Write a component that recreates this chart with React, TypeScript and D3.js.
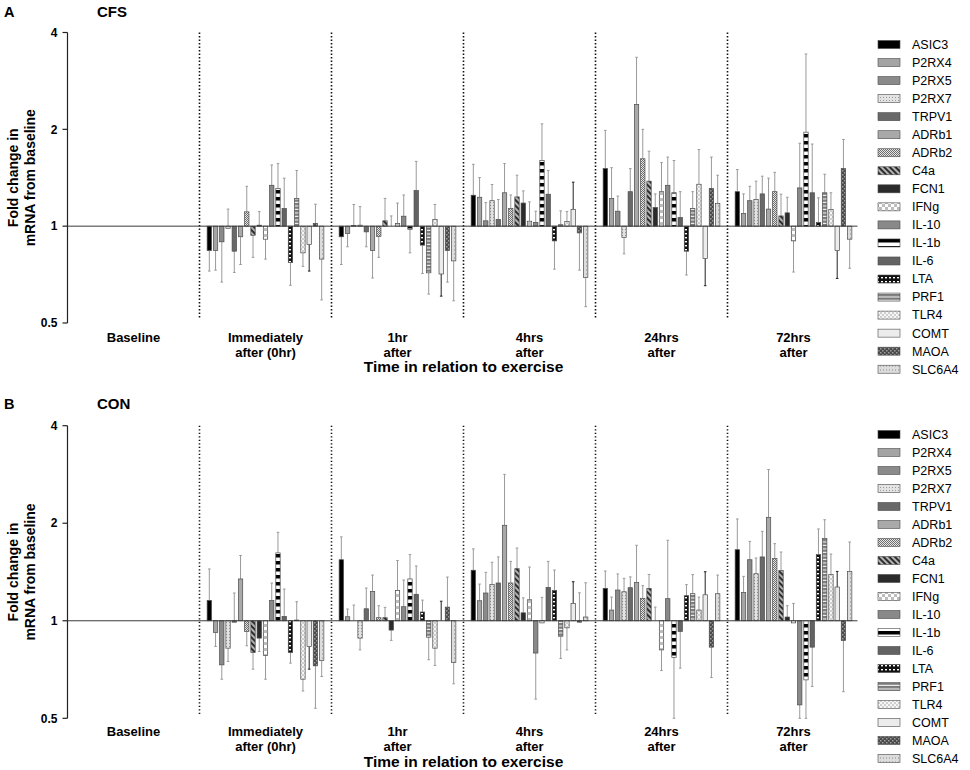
import React from 'react';
import * as d3 from 'd3';

// ---------- DATA ----------
const genes = ['ASIC3','P2RX4','P2RX5','P2RX7','TRPV1','ADRb1','ADRb2','C4a','FCN1','IFNg','IL-10','IL-1b','IL-6','LTA','PRF1','TLR4','COMT','MAOA','SLC6A4'];
const timeKeys = ['base','0hr','1hr','4hrs','24hrs','72hrs'];
const timeLine1 = ['Baseline','Immediately','1hr','4hrs','24hrs','72hrs'];
const timeLine2 = ['','after (0hr)','after','after','after','after'];
const yTicks = [0.5, 1, 2, 4];

// CFS (panel A) mean fold change and error-bar end
const cfs0hr    = [0.84,0.84,0.894,0.985,0.836,0.927,1.108,0.937,1.007,0.911,1.34,1.31,1.135,0.771,1.22,0.826,0.877,1.02,0.79];
const cfs0hrErr = [0.725,0.73,0.67,1.13,0.718,0.76,1.33,0.80,1.11,0.79,1.55,1.565,1.41,0.655,1.49,0.75,0.725,1.17,0.59];
const cfs1hr    = [0.927,0.949,1.005,1.007,0.96,0.84,0.93,1.039,1.0,1.02,1.074,0.977,1.29,0.873,0.716,1.05,0.71,0.84,0.78];
const cfs1hrErr = [0.76,0.863,1.168,1.15,0.863,0.69,0.80,1.22,1.076,1.18,1.25,0.826,1.59,0.713,0.615,1.168,0.606,0.67,0.586];
const cfs4hr    = [1.248,1.23,1.039,1.2,1.049,1.27,1.135,1.233,1.18,1.036,1.027,1.6,1.257,0.90,1.01,1.034,1.127,0.953,0.693];
const cfs4hrErr = [1.557,1.416,1.184,1.347,1.21,1.565,1.25,1.44,1.287,1.19,1.113,2.08,1.49,0.735,1.116,1.11,1.37,0.73,0.562];
const cfs24hr    = [1.51,1.22,1.113,0.922,1.28,2.39,1.62,1.38,1.143,1.28,1.34,1.27,1.064,0.836,1.135,1.35,0.794,1.31,1.176];
const cfs24hrErr = [1.985,1.52,1.24,0.82,1.51,3.35,2.0,1.71,1.26,1.576,1.64,1.6,1.28,0.705,1.28,1.73,0.653,1.64,1.44];
const cfs72hr    = [1.28,1.095,1.2,1.21,1.26,1.13,1.28,1.076,1.1,0.90,1.315,1.96,1.27,1.027,1.27,1.127,0.84,1.51,0.911];
const cfs72hrErr = [1.5,1.26,1.33,1.38,1.43,1.41,1.47,1.257,1.23,0.72,1.81,3.43,1.8,1.225,1.45,1.27,0.688,1.86,0.74];

// CON (panel B)
const con0hr    = [1.155,0.92,0.731,0.823,0.99,1.346,0.927,0.798,0.884,0.781,1.155,1.62,1.031,0.798,1.005,0.66,0.833,0.726,0.754];
const con0hrErr = [1.445,0.833,0.66,0.749,1.218,1.59,0.837,0.709,0.804,0.66,1.307,1.875,1.253,0.74,1.145,0.607,0.709,0.537,0.673];
const con1hr    = [1.543,1.029,1.0,0.884,1.089,1.232,1.022,1.022,0.936,1.24,1.105,1.346,1.207,1.064,0.89,0.823,1.0,1.102,0.744];
const con1hrErr = [1.815,1.087,1.118,0.813,1.262,1.384,1.113,1.1,0.87,1.535,1.336,1.6,1.476,1.158,0.758,0.728,1.149,1.364,0.639];
const con4hr    = [1.432,1.153,1.218,1.293,1.308,1.971,1.308,1.448,1.058,1.161,0.795,0.985,1.267,1.24,0.896,0.951,1.131,0.99,1.027];
const con4hrErr = [1.667,1.298,1.411,1.516,1.574,2.83,1.525,1.677,1.177,1.465,0.573,1.181,1.525,1.434,0.765,0.813,1.32,1.22,1.31];
const con24hr    = [1.259,1.079,1.244,1.229,1.265,1.314,1.173,1.259,1.0,0.813,1.17,0.77,0.927,1.195,1.212,1.079,1.203,0.829,1.212];
const con24hrErr = [1.424,1.183,1.395,1.352,1.366,1.71,1.283,1.39,1.102,0.702,1.772,0.5,0.714,1.293,1.388,1.183,1.417,0.668,1.384];
const con72hr    = [1.657,1.223,1.543,1.397,1.574,2.086,1.555,1.428,1.027,0.985,0.55,0.657,0.829,1.6,1.796,1.388,1.271,0.869,1.42];
const con72hrErr = [2.062,1.371,1.758,1.562,1.888,2.93,1.73,1.63,1.113,1.131,0.5,0.5,0.627,1.92,2.05,1.607,1.42,0.604,1.75];

const cfsValues = [cfs0hr, cfs1hr, cfs4hr, cfs24hr, cfs72hr];
const cfsErrors = [cfs0hrErr, cfs1hrErr, cfs4hrErr, cfs24hrErr, cfs72hrErr];
const conValues = [con0hr, con1hr, con4hr, con24hr, con72hr];
const conErrors = [con0hrErr, con1hrErr, con4hrErr, con24hrErr, con72hrErr];

// ---------- STYLE ----------
const geneFill: Record<string, string> = {
  'ASIC3': '#000000',
  'P2RX4': '#a4a4a4',
  'P2RX5': '#8a8a8a',
  'P2RX7': 'url(#pDots)',
  'TRPV1': '#696969',
  'ADRb1': '#a9a9a9',
  'ADRb2': 'url(#pFineCheck)',
  'C4a': 'url(#pDiag)',
  'FCN1': '#2b2b2b',
  'IFNg': 'url(#pCheck)',
  'IL-10': '#898989',
  'IL-1b': 'url(#pIL1b)',
  'IL-6': '#636363',
  'LTA': 'url(#pLTA)',
  'PRF1': 'url(#pPRF1)',
  'TLR4': 'url(#pTLR4)',
  'COMT': '#ececec',
  'MAOA': 'url(#pMAOA)',
  'SLC6A4': 'url(#pSLC)',
};
const errColor = (g: string) => (g === 'COMT' ? '#222' : '#9a9a9a');
const FONT = '"Liberation Sans", Arial, Helvetica, sans-serif';

function Patterns() {
  return (
    <defs>
      <pattern id="pDots" width="3" height="3" patternUnits="userSpaceOnUse">
        <rect width="3" height="3" fill="#e3e3e3" />
        <rect x="1" y="1" width="1" height="1" fill="#9a9a9a" />
      </pattern>
      <pattern id="pFineCheck" width="2" height="2" patternUnits="userSpaceOnUse">
        <rect width="2" height="2" fill="#e6e6e6" />
        <rect width="1" height="1" fill="#6e6e6e" />
        <rect x="1" y="1" width="1" height="1" fill="#6e6e6e" />
      </pattern>
      <pattern id="pDiag" width="4" height="4" patternUnits="userSpaceOnUse" patternTransform="rotate(45)">
        <rect width="4" height="4" fill="#b4b4b4" />
        <rect width="4" height="1.9" fill="#262626" />
      </pattern>
      <pattern id="pCheck" width="6" height="6" patternUnits="userSpaceOnUse">
        <rect width="6" height="6" fill="#ffffff" />
        <rect width="3" height="3" fill="#bdbdbd" />
        <rect x="3" y="3" width="3" height="3" fill="#bdbdbd" />
      </pattern>
      <pattern id="pIL1b" width="6" height="7" patternUnits="userSpaceOnUse">
        <rect width="6" height="7" fill="#ffffff" />
        <rect x="0" y="1" width="6" height="3.5" fill="#000000" />
      </pattern>
      <pattern id="pLTA" width="4" height="4" patternUnits="userSpaceOnUse">
        <rect width="4" height="4" fill="#111111" />
        <rect x="1" y="1" width="2" height="1.4" fill="#ffffff" />
      </pattern>
      <pattern id="pPRF1" width="4" height="3.5" patternUnits="userSpaceOnUse">
        <rect width="4" height="3.5" fill="#7a7a7a" />
        <rect x="0" y="2.4" width="4" height="1" fill="#ffffff" />
      </pattern>
      <pattern id="pTLR4" width="4" height="4" patternUnits="userSpaceOnUse">
        <rect width="4" height="4" fill="#f6f6f6" />
        <rect x="0" y="0.5" width="2" height="1" fill="#a8a8a8" />
        <rect x="2" y="2.5" width="2" height="1" fill="#a8a8a8" />
      </pattern>
      <pattern id="pMAOA" width="4" height="4" patternUnits="userSpaceOnUse">
        <rect width="4" height="4" fill="#4a4a4a" />
        <rect x="0" y="0" width="1.5" height="1.5" fill="#9c9c9c" />
        <rect x="2" y="2" width="1.5" height="1.5" fill="#9c9c9c" />
      </pattern>
      <pattern id="pSLC" width="3" height="4" patternUnits="userSpaceOnUse">
        <rect width="3" height="4" fill="#dcdcdc" />
        <rect x="1" y="1.5" width="1" height="1" fill="#8c8c8c" />
      </pattern>
    </defs>
  );
}

interface PanelCfg {
  letter: string;
  title: string;
  letterY: number;
  yTop: number;
  yBottom: number;
  label1Y: number;
  label2Y: number;
  axisTitleY: number;
  legendY0: number;
  legendStep: number;
  values: number[][];
  errors: number[][];
}

const X0 = 67.5;
const X1 = 859.5;

function Panel({ cfg }: { cfg: PanelCfg }) {
  const y = d3.scaleLog().base(2).domain([0.5, 4]).range([cfg.yBottom, cfg.yTop]);
  const xg = d3.scaleBand<string>().domain(timeKeys).range([X0, X1]);
  const xi = d3.scaleBand<string>().domain(genes).range([6.7, 125.3]).paddingInner(0.3).paddingOuter(0.15);
  const y1 = y(1);
  const clampV = (v: number) => Math.max(0.5, Math.min(4, v));
  const bw = xi.bandwidth();
  const midY = (cfg.yTop + cfg.yBottom) / 2;

  return (
    <g>
      <text x={4} y={cfg.letterY} dy="0.35em" fontFamily={FONT} fontWeight="bold" fontSize={14.5}>{cfg.letter}</text>
      <text x={97} y={cfg.letterY} dy="0.35em" fontFamily={FONT} fontWeight="bold" fontSize={15}>{cfg.title}</text>

      {/* y axis title */}
      <text transform={`translate(17.5,${midY}) rotate(-90)`} textAnchor="middle" fontFamily={FONT} fontWeight="bold" fontSize={14}>Fold change in</text>
      <text transform={`translate(34.5,${midY}) rotate(-90)`} textAnchor="middle" fontFamily={FONT} fontWeight="bold" fontSize={14}>mRNA from baseline</text>

      {/* y axis */}
      <line x1={X0} x2={X0} y1={y(4)} y2={y(0.5)} stroke="#222" strokeWidth={1.2} />
      {yTicks.map((t) => (
        <g key={t}>
          <line x1={X0 - 5} x2={X0} y1={y(t)} y2={y(t)} stroke="#222" strokeWidth={1.2} />
          <text x={57.5} y={y(t)} dy="0.35em" textAnchor="end" fontFamily={FONT} fontWeight="bold" fontSize={12}>{t}</text>
        </g>
      ))}

      {/* dotted group separators */}
      {timeKeys.slice(1).map((k) => (
        <line key={k} x1={xg(k)!} x2={xg(k)!} y1={y(4)} y2={y(0.5) - 4} stroke="#111" strokeWidth={1.6} strokeDasharray="1.4,2.1" />
      ))}

      {/* bars */}
      {timeKeys.slice(1).map((k, ti) => {
        const vals = cfg.values[ti];
        const errs = cfg.errors[ti];
        return (
          <g key={k}>
            {genes.map((g, gi) => {
              const v = vals[gi];
              const e = clampV(errs[gi]);
              const xl = xg(k)! + xi(g)!;
              const xc = xl + bw / 2;
              const yv = y(v);
              const ye = y(e);
              const top = Math.min(yv, y1);
              const h = Math.abs(yv - y1);
              return (
                <g key={g}>
                  <line x1={xc} x2={xc} y1={yv} y2={ye} stroke={errColor(g)} strokeWidth={1} />
                  <line x1={xc - 1.3} x2={xc + 1.3} y1={ye} y2={ye} stroke={errColor(g)} strokeWidth={1} />
                  {h > 0.2 && (
                    <rect x={xl} y={top} width={bw} height={h} fill={geneFill[g]} stroke="#4a4a4a" strokeWidth={0.7} />
                  )}
                </g>
              );
            })}
          </g>
        );
      })}

      {/* line at 1 */}
      <line x1={X0} x2={X1 - 2} y1={y1} y2={y1} stroke="#3a3a3a" strokeWidth={1} />

      {/* x category labels */}
      {timeKeys.map((k, i) => {
        const cx = xg(k)! + xg.bandwidth() / 2;
        return (
          <g key={k}>
            <text x={cx} y={cfg.label1Y} dy="0.35em" textAnchor="middle" fontFamily={FONT} fontWeight="bold" fontSize={13}>{timeLine1[i]}</text>
            {timeLine2[i] && (
              <text x={cx} y={cfg.label2Y} dy="0.35em" textAnchor="middle" fontFamily={FONT} fontWeight="bold" fontSize={13}>{timeLine2[i]}</text>
            )}
          </g>
        );
      })}
      <text x={(X0 + X1) / 2} y={cfg.axisTitleY} dy="0.35em" textAnchor="middle" fontFamily={FONT} fontWeight="bold" fontSize={15.5}>Time in relation to exercise</text>

      {/* legend */}
      {genes.map((g, i) => {
        const ly = cfg.legendY0 + i * cfg.legendStep;
        return (
          <g key={g}>
            <rect x={878} y={ly - 4} width={22} height={8} fill={geneFill[g]} stroke="#4a4a4a" strokeWidth={0.6} />
            <text x={912} y={ly} dy="0.35em" fontFamily={FONT} fontSize={12.5}>{g}</text>
          </g>
        );
      })}
    </g>
  );
}

const panelA: PanelCfg = {
  letter: 'A', title: 'CFS', letterY: 12,
  yTop: 32.5, yBottom: 323,
  label1Y: 337, label2Y: 352, axisTitleY: 367,
  legendY0: 44.5, legendStep: 18.04,
  values: cfsValues, errors: cfsErrors,
};
const panelB: PanelCfg = {
  letter: 'B', title: 'CON', letterY: 404,
  yTop: 425.7, yBottom: 718.3,
  label1Y: 731, label2Y: 746, axisTitleY: 762,
  legendY0: 434.5, legendStep: 18,
  values: conValues, errors: conErrors,
};

export default function App() {
  return (
    <svg width={970} height={770} style={{ position: 'absolute', left: 0, top: 0, background: '#fff' }}>
      <Patterns />
      <rect width={970} height={770} fill="#ffffff" />
      <Panel cfg={panelA} />
      <Panel cfg={panelB} />
    </svg>
  );
}
